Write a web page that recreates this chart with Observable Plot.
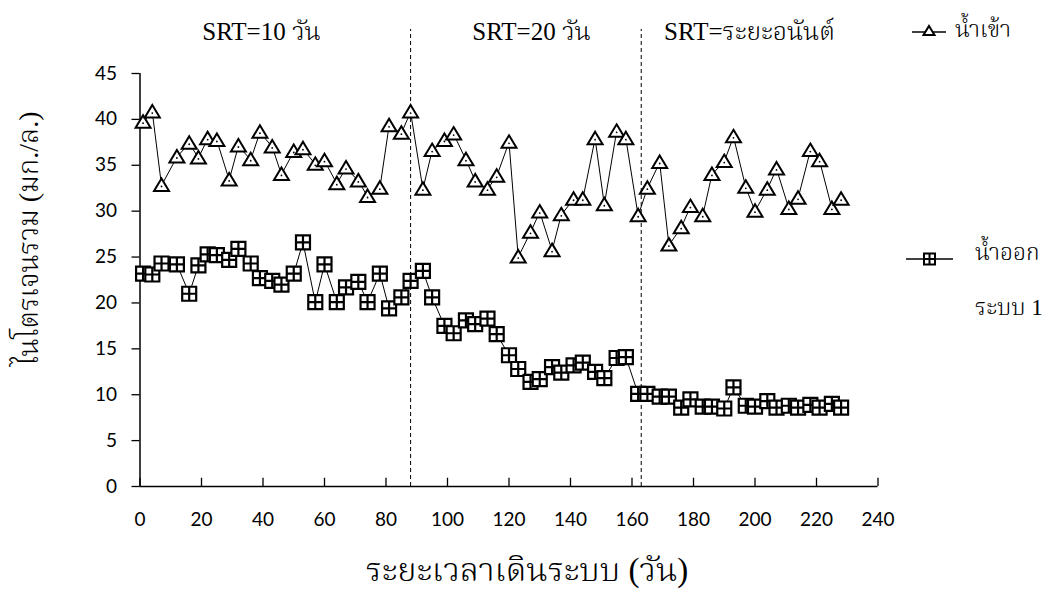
<!DOCTYPE html>
<html>
<head>
<meta charset="utf-8">
<script src="https://cdn.jsdelivr.net/npm/d3@7"></script>
<script src="https://cdn.jsdelivr.net/npm/@observablehq/plot@0.6"></script>
<style>
  html, body { margin: 0; padding: 0; background: #fff; }
  #wrap { position: relative; width: 1054px; height: 591px; overflow: hidden; }
  .leg { position: absolute; font-family: "Liberation Serif", Norasi, Kinnari, "Noto Serif Thai", "Noto Sans Thai Looped", "Noto Sans Thai", serif; font-size: 23px; font-weight: 300; color: #000; white-space: nowrap; line-height: 1; }
  .legsym { position: absolute; }
</style>
</head>
<body>
<div id="wrap"></div>
<script>
// ---- data ----
const days = [1,4,7,12,16,19,22,25,29,32,36,39,43,46,50,53,57,60,64,67,71,74,78,81,85,88,
  92,95,99,102,106,109,113,116,120,123,127,130,134,137,141,144,148,151,155,158,
  162,165,169,172,176,179,183,186,190,193,197,200,204,207,211,214,218,221,225,228];
const influent = [39.7,40.8,32.8,35.9,37.4,35.8,37.9,37.7,33.4,37.1,35.6,38.6,37.0,34.0,36.5,36.8,35.1,35.5,33.0,34.7,33.3,31.6,32.5,39.3,38.5,40.8,
  32.4,36.6,37.7,38.4,35.6,33.3,32.4,33.8,37.5,25.0,27.7,29.9,25.7,29.6,31.3,31.3,37.9,30.7,38.7,37.9,
  29.5,32.5,35.3,26.3,28.2,30.5,29.5,34.0,35.4,38.1,32.6,30.0,32.4,34.6,30.3,31.4,36.6,35.5,30.3,31.3];
const effluent = [23.2,23.1,24.3,24.2,21.0,24.1,25.3,25.2,24.7,25.9,24.3,22.7,22.4,22.0,23.2,26.6,20.1,24.2,20.1,21.7,22.3,20.1,23.2,19.4,20.6,22.4,
  23.5,20.6,17.5,16.7,18.1,17.7,18.3,16.6,14.3,12.8,11.4,11.7,13.0,12.4,13.2,13.5,12.5,11.8,14.0,14.1,
  10.1,10.1,9.8,9.8,8.6,9.5,8.7,8.7,8.5,10.8,8.8,8.7,9.3,8.6,8.8,8.6,8.9,8.6,9.0,8.6];
const xTicks = [0,20,40,60,80,100,120,140,160,180,200,220,240];
const yTicks = [0,5,10,15,20,25,30,35,40,45];
const phaseBoundaries = [88, 163];
const phaseLabels = ["SRT=10 วัน", "SRT=20 วัน", "SRT=ระยะอนันต์"];
const phaseLabelX = [39.5, 127.3, 198.2];
const phaseLabelY = 49.5;
const boundaryTop = 49.8;
const seriesNames = ["น้ำเข้า", "น้ำออก", "ระบบ 1"];
const xLabel = "ระยะเวลาเดินระบบ (วัน)";
const yLabel = "ไนโตรเจนรวม (มก./ล.)";
const yLabelAt = 27;

const inRows = days.map((d, i) => ({day: d, v: influent[i]}));
const outRows = days.map((d, i) => ({day: d, v: effluent[i]}));
const phaseRows = phaseLabels.map((t, i) => ({t, x: phaseLabelX[i], y: phaseLabelY}));

const thaiFont = '"Liberation Serif", Norasi, Kinnari, "Noto Serif Thai", "Noto Sans Thai Looped", "Noto Sans Thai", serif';
const numFont = 'Lato, "Open Sans", sans-serif';

// custom marker shapes
const triSym = { draw(ctx) {
  ctx.moveTo(0, -7); ctx.lineTo(7.5, 5.5); ctx.lineTo(-7.5, 5.5); ctx.closePath();
}};
const sqSym = { draw(ctx) {
  const r = 7;
  ctx.moveTo(-r, -r); ctx.lineTo(r, -r); ctx.lineTo(r, r); ctx.lineTo(-r, r); ctx.closePath();
  ctx.moveTo(0, -r); ctx.lineTo(0, r);
  ctx.moveTo(-r, 0); ctx.lineTo(r, 0);
}};

const chart = Plot.plot({
  width: 1054, height: 591,
  marginLeft: 139.5, marginRight: 176.5, marginTop: 73, marginBottom: 105,
  style: {background: "#fff", color: "#000", overflow: "visible"},
  x: {domain: [0, 240], ticks: xTicks},
  y: {domain: [0, 45], ticks: yTicks},
  marks: [
    Plot.axisY(yTicks, {tickSize: 8, tickPadding: 15, fontSize: 19, fontFamily: numFont, label: null, stroke: "#000", strokeWidth: 1.3}),
    Plot.axisX(xTicks, {tickSize: 0, tickPadding: 26, fontSize: 19, fontFamily: numFont, label: null}),
    Plot.ruleX(xTicks, {y1: 0, y2: 0.9, stroke: "#000", strokeWidth: 1.3}),
    Plot.ruleY([0], {stroke: "#000", strokeWidth: 1.5}),
    Plot.ruleX([0], {stroke: "#000", strokeWidth: 1.5}),
    Plot.ruleX(phaseBoundaries, {y1: 0, y2: boundaryTop, stroke: "#000", strokeWidth: 1, strokeDasharray: "4,3"}),
    Plot.line(outRows, {x: "day", y: "v", stroke: "#000", strokeWidth: 1}),
    Plot.line(inRows, {x: "day", y: "v", stroke: "#000", strokeWidth: 1}),
    Plot.dot(outRows, {x: "day", y: "v", r: 7, symbol: sqSym, stroke: "#000", strokeWidth: 2.2, fill: "#fff"}),
    Plot.dot(inRows, {x: "day", y: "v", r: 7, symbol: triSym, stroke: "#000", strokeWidth: 2, fill: "#fff"}),
    Plot.dot(inRows, {x: "day", y: "v", r: 0.9, fill: "#000", dy: 1}),
    Plot.text(phaseRows, {x: "x", y: "y", text: "t", fontSize: 25, fontFamily: thaiFont, fontWeight: 300, fill: "#000"}),
    Plot.text([xLabel], {frameAnchor: "bottom", dy: 94, dx: 18, fontSize: 33, fontFamily: thaiFont, fontWeight: 300, fill: "#000"}),
    Plot.text([yLabel], {x: () => 0, y: () => yLabelAt, dx: -111, rotate: -90, fontSize: 28, fontFamily: thaiFont, fontWeight: 300, fill: "#000"})
  ]
});

const wrap = document.getElementById("wrap");
wrap.appendChild(chart);

// legend (HTML overlay)
function legendSymbol(kind, left, top, w) {
  const ns = "http://www.w3.org/2000/svg";
  const svg = document.createElementNS(ns, "svg");
  svg.setAttribute("width", w); svg.setAttribute("height", 20);
  svg.setAttribute("class", "legsym");
  svg.style.left = left + "px"; svg.style.top = top + "px";
  const line = document.createElementNS(ns, "line");
  line.setAttribute("x1", 0); line.setAttribute("x2", w);
  line.setAttribute("y1", 10); line.setAttribute("y2", 10);
  line.setAttribute("stroke", "#000"); line.setAttribute("stroke-width", 1.3);
  svg.appendChild(line);
  const p = document.createElementNS(ns, "path");
  const cx = w / 2;
  if (kind === "tri") {
    p.setAttribute("d", `M${cx},${4}L${cx+5.5},${13}L${cx-5.5},${13}Z`);
  } else {
    p.setAttribute("d", `M${cx-5.5},4.5h11v11h-11ZM${cx},4.5v11M${cx-5.5},10h11`);
  }
  p.setAttribute("fill", "#fff"); p.setAttribute("stroke", "#000"); p.setAttribute("stroke-width", 2);
  svg.appendChild(p);
  wrap.appendChild(svg);
}
function legendText(t, left, top) {
  const d = document.createElement("div");
  d.className = "leg"; d.textContent = t;
  d.style.left = left + "px"; d.style.top = top + "px";
  wrap.appendChild(d);
}
legendSymbol("tri", 912, 22, 34);
legendText(seriesNames[0], 955, 18);
legendSymbol("sq", 906, 249, 47);
legendText(seriesNames[1], 975, 241);
legendText(seriesNames[2], 975, 296);
</script>
</body>
</html>
